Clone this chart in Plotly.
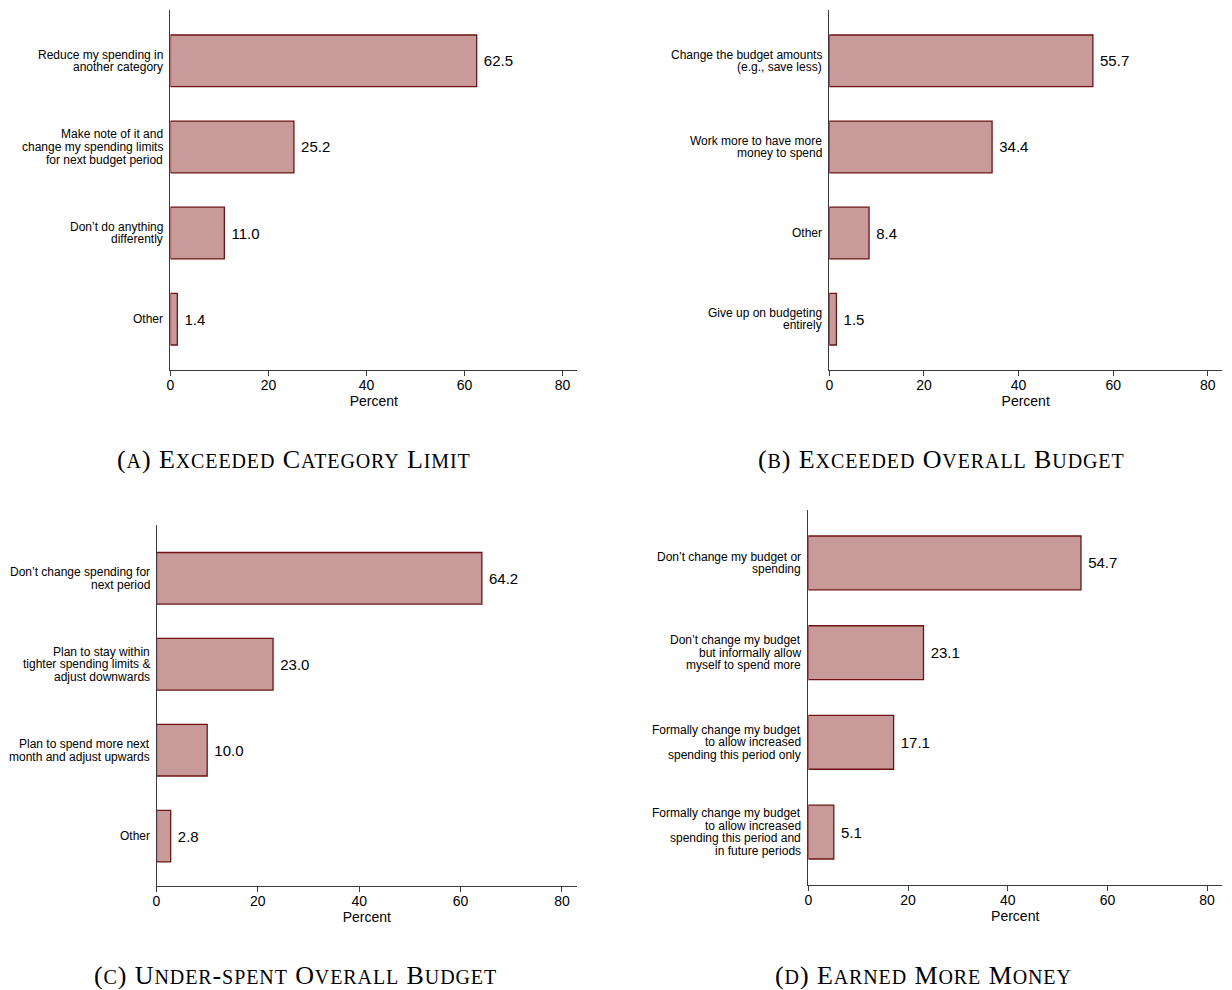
import plotly.graph_objects as go

# Survey responses, one panel per situation (percent of respondents)
labels_a = [
    "Reduce my spending in<br>another category",
    "Make note of it and<br>change my spending limits<br>for next budget period",
    "Don’t do anything<br>differently",
    "Other",
]
values_a = [62.5, 25.2, 11.0, 1.4]

labels_b = [
    "Change the budget amounts<br>(e.g., save less)",
    "Work more to have more<br>money to spend",
    "Other",
    "Give up on budgeting<br>entirely",
]
values_b = [55.7, 34.4, 8.4, 1.5]

labels_c = [
    "Don’t change spending for<br>next period",
    "Plan to stay within<br>tighter spending limits &<br>adjust downwards",
    "Plan to spend more next<br>month and adjust upwards",
    "Other",
]
values_c = [64.2, 23.0, 10.0, 2.8]

labels_d = [
    "Don’t change my budget or<br>spending",
    "Don’t change my budget<br>but informally allow<br>myself to spend more",
    "Formally change my budget<br>to allow increased<br>spending this period only",
    "Formally change my budget<br>to allow increased<br>spending this period and<br>in future periods",
]
values_d = [54.7, 23.1, 17.1, 5.1]

x_ticks = [0, 20, 40, 60, 80]

captions = [
    ("A", "Exceeded Category Limit"),
    ("B", "Exceeded Overall Budget"),
    ("C", "Under-spent Overall Budget"),
    ("D", "Earned More Money"),
]

W, H = 1232, 990
SANS = "Liberation Sans, Arial, Helvetica, sans-serif"
SERIF = "Liberation Serif, DejaVu Serif, serif"
FILL = "rgb(201,154,154)"
EDGE = "rgb(110,18,18)"
AXIS = "#3a3a3a"

# pixel boxes of each plotting area: (left, right, top, bottom) and y range
panels = [
    (labels_a, values_a, (167, 575, 10, 370), [3.59, -0.59]),
    (labels_b, values_b, (828, 1222, 10, 370), [3.59, -0.59]),
    (labels_c, values_c, (153, 575, 525, 886), [3.58, -0.62]),
    (labels_d, values_d, (807, 1222, 510, 885), [3.59, -0.59]),
]
caption_pos = [(291, 459), (941, 459), (292, 975), (922, 975)]

BIG, SMALL, SPACING = 26, 20, 0.9


def span(txt, size):
    return f"<span style='font-size:{size}px;letter-spacing:{SPACING}px'>{txt}</span>"


def small_caps(text):
    out = []
    for word in text.split(" "):
        parts = []
        for ch in word:
            if ch.isupper() or not ch.isalpha():
                parts.append(span(ch, BIG))
            else:
                parts.append(span(ch.upper(), SMALL))
        out.append("".join(parts))
    return span(" ", BIG).join(out)


fig = go.Figure()
annotations = []
LINE_H = 12.6

for i, (labels, values, (l, r, t, b), yr) in enumerate(panels):
    n = i + 1
    xa = "x" if n == 1 else f"x{n}"
    ya = "y" if n == 1 else f"y{n}"
    fig.add_trace(go.Bar(
        x=values, y=labels, orientation="h",
        width=0.6,
        marker=dict(color=FILL, line=dict(color=EDGE, width=1.3)),
        text=values, texttemplate="\u00a0%{x:.1f}", textposition="outside",
        textfont=dict(family=SANS, size=15, color="black"),
        cliponaxis=False,
        xaxis=xa, yaxis=ya, showlegend=False,
    ))
    key = "" if n == 1 else str(n)
    fig.layout[f"xaxis{key}"] = dict(
        domain=[l / W, r / W], anchor=ya, range=[0, 83],
        tickvals=x_ticks, ticks="outside", ticklen=5, tickcolor=AXIS,
        ticklabelstandoff=-3,
        showline=True, linecolor=AXIS, linewidth=1.3,
        showgrid=False, zeroline=False,
        tickfont=dict(family=SANS, size=14, color="black"),
        title=dict(text="Percent", font=dict(family=SANS, size=14, color="black"),
                   standoff=2),
    )
    fig.layout[f"yaxis{key}"] = dict(
        domain=[1 - b / H, 1 - t / H], anchor=xa,
        type="category", categoryorder="array", categoryarray=labels,
        range=yr, showline=True, linecolor=AXIS, linewidth=1.3,
        showgrid=False, zeroline=False, ticks="", showticklabels=False,
    )
    # category labels drawn line by line for tight leading
    for lab in labels:
        lines = lab.split("<br>")
        k = len(lines)
        for j, line in enumerate(lines):
            annotations.append(dict(
                x=0, y=lab, xref=xa, yref=ya, text=line, showarrow=False,
                xanchor="right", yanchor="middle", xshift=-5,
                yshift=((k - 1) / 2 - j) * LINE_H,
                font=dict(family=SANS, size=12, color="black"),
            ))

for (letter, title), (cx, cy) in zip(captions, caption_pos):
    annotations.append(dict(
        x=cx / W, y=1 - cy / H, xref="paper", yref="paper",
        text=span("(", BIG) + span(letter, SMALL) + span(")", BIG) + span(" ", BIG)
        + small_caps(title),
        showarrow=False, xanchor="center", yanchor="middle",
        font=dict(family=SERIF, size=BIG, color="black"),
    ))

fig.update_layout(
    width=W, height=H,
    margin=dict(l=0, r=0, t=0, b=0),
    paper_bgcolor="white", plot_bgcolor="white",
    annotations=annotations,
    bargap=0.4,
)

fig.write_html("out.html")
